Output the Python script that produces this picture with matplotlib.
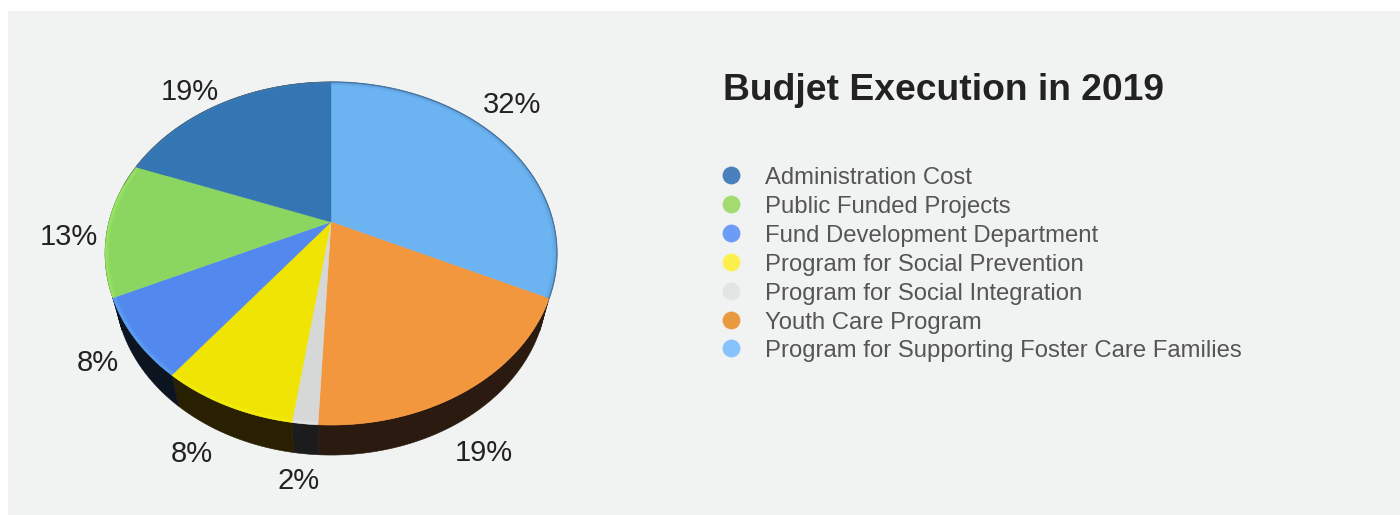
import numpy as np
import matplotlib
matplotlib.use("Agg")
import matplotlib.pyplot as plt
from matplotlib.patches import Rectangle
from matplotlib.colors import to_rgb

plt.rcParams['font.family'] = ['Liberation Sans', 'DejaVu Sans']

# Chart values, clockwise from 12 o'clock (same order as drawn)
slice_names = ["Program for Supporting Foster Care Families", "Youth Care Program",
               "Program for Social Integration", "Program for Social Prevention",
               "Fund Development Department", "Public Funded Projects", "Administration Cost"]
slice_values = [32.0, 18.76, 1.54, 8.2, 7.56, 12.69, 19.25]
slice_labels = ["32%", "19%", "2%", "8%", "8%", "13%", "19%"]

# Legend runs the other way round
legend_names = slice_names[::-1]
legend_colors = ["#4a80bd", "#a5dc72", "#6c9cf5", "#fdf04e", "#e3e4e4", "#ea9a3e", "#86c2fb"]

top_colors = ["#6cb3f1", "#f2973e", "#d6d7d7", "#f0e404", "#5389ee", "#8bd660", "#3476b4"]
rim_colors = ["#5a9bd8", "#f79a45", "#ececec", "#f6f410", "#62b0f8", "#a6f064", "#3a7ab8"]
side_colors = ["#3b2816", "#2b1a0f", "#1c1c1c", "#282000", "#0c1420", "#0c1420", "#0c1420"]

# label offset from the rim point of each slice, pixels
label_offsets = [(10, -36), (17, 62), (-6, 57), (-35, 48), (-37, 24), (-39, 9), (-31, -12)]

# pie shape in picture pixels: the top is a tilted disc, so the centre sits above the ellipse centre
cx, cy = 331, 222
tilt = 0.1837
reach_x, reach_y = 222.1, 165.7


def rim(frac):
    a = 2 * np.pi * np.asarray(frac)
    u, v = np.sin(a), np.cos(a)
    d = 1 + tilt * v
    return cx + reach_x * u / d, cy - reach_y * v / d


def bottom_rim(frac):
    x, y = rim(frac)
    return cx + (x - cx) * 0.957, 287 + (y - 253.5) * 0.98


def shade(color, amount):
    c = np.array(to_rgb(color))
    return tuple(np.clip(c + (1 - c) * amount, 0, 1)) if amount > 0 else tuple(c * (1 + amount))


fig = plt.figure(figsize=(14, 5.15), dpi=100, facecolor="white")
ax = fig.add_axes([0, 0, 1, 1])
ax.set_xlim(0, 1400)
ax.set_ylim(515, 0)
ax.axis("off")
ax.add_patch(Rectangle((8, 11), 1392, 504, fc="#f1f3f3", ec="none", zorder=0))

fracs = np.array(slice_values) / sum(slice_values)
edges = np.concatenate([[0], np.cumsum(fracs)])

# side wall first, top disc goes over it
for i in range(len(fracs)):
    t = np.linspace(edges[i], edges[i + 1], 120)
    x1, y1 = rim(t)
    x2, y2 = bottom_rim(t)
    ax.fill(np.r_[x1, x2[::-1]], np.r_[y1, y2[::-1]], fc=side_colors[i], ec=side_colors[i], lw=0.4, zorder=2)

# top of the pie
for i in range(len(fracs)):
    t = np.linspace(edges[i], edges[i + 1], 120)
    x, y = rim(t)
    ax.fill(np.r_[cx, x], np.r_[cy, y], fc=top_colors[i], ec=top_colors[i], lw=0.3, zorder=3)
    # soft band round the edge, a few passes so it fades inwards
    for inner, alpha in [(0.996, 0.45), (0.99, 0.25), (0.984, 0.12)]:
        ax.plot(cx + (x - cx) * inner, 253.5 + (y - 253.5) * inner, color=rim_colors[i], lw=1.6, alpha=alpha,
                solid_capstyle="butt", zorder=4)

# thin dark line on the upper rim
t = np.linspace(0, edges[1], 200)
x, y = rim(t)
ax.plot(x, y, color=shade("#4a78a8", -0.1), lw=1.0, alpha=0.8, zorder=5)
t = np.linspace(edges[-2] - 0.02, 1, 200)
x, y = rim(t)
ax.plot(x, y, color="#5f6f70", lw=0.7, alpha=0.5, zorder=5)

# percent labels
mids = (edges[:-1] + edges[1:]) / 2
for i, lab in enumerate(slice_labels):
    x, y = rim(mids[i])
    ax.text(x + label_offsets[i][0], y + label_offsets[i][1], lab, fontsize=21, color="#222222",
            ha="center", va="center", zorder=6)

# title and legend
ax.text(723, 91, "Budjet Execution in 2019", fontsize=26.85, fontweight="bold", color="#222222",
        ha="left", va="center")
for i, name in enumerate(legend_names):
    y = 176 + 28.9 * i
    ax.scatter([730.5], [y - 1], s=165, color=legend_colors[i], linewidths=0, zorder=3)
    ax.text(765, y + 2, name, fontsize=17.2, color="#555555", ha="left", va="center")

fig.savefig("out.png", dpi=100, facecolor="white")
